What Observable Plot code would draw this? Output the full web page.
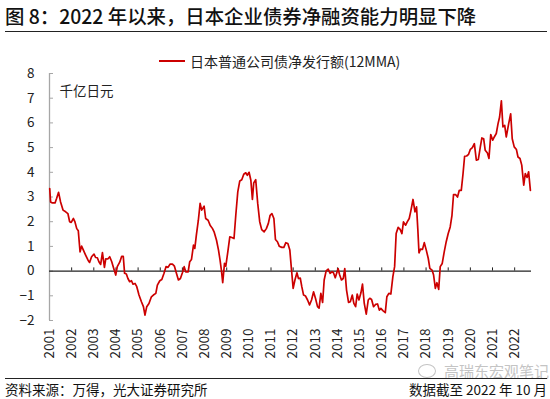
<!DOCTYPE html>
<html><head><meta charset="utf-8">
<script src="https://cdn.jsdelivr.net/npm/d3@7"></script>
<script src="https://cdn.jsdelivr.net/npm/@observablehq/plot@0.6"></script>
<style>
body{margin:0;background:#fff;font-family:"Noto Sans CJK SC","Noto Sans",sans-serif;}
#wrap{position:relative;width:550px;height:399px;overflow:hidden;background:#fff}
#title{position:absolute;left:5px;top:2px;font-size:19.4px;font-weight:500;color:#111;white-space:nowrap;line-height:28px}
.rule{position:absolute;left:5px;right:3px;border-top:1.3px solid #222;}
#legend{position:absolute;left:159px;top:51px;font-size:14px;line-height:20px;display:flex;align-items:center;color:#222;white-space:nowrap}
#legend .sw{width:26px;height:2px;background:#cc0000;margin-right:5px}
#chart{position:absolute;left:0;top:40px}
#src{position:absolute;left:5px;top:379px;font-size:13.5px;line-height:20px;color:#111;white-space:nowrap}
#date{position:absolute;right:3px;top:379px;font-size:13.5px;line-height:20px;color:#111;white-space:nowrap}
#wm{position:absolute;left:418px;top:362px;font-size:15px;line-height:18px;color:#c4c4c4;white-space:nowrap;display:flex;align-items:center}
#wm .ic{width:16px;height:12px;border:1.3px solid #c4c4c4;border-radius:50%;margin-right:8px}
</style>
</head><body>
<div id="wrap">
  <div id="title">图 8：2022 年以来，日本企业债券净融资能力明显下降</div>
  <div class="rule" style="top:31px"></div>
  <div id="chart"></div>
  <div id="legend"><span class="sw"></span><span id="legtext"></span></div>
  <div id="wm"><span class="ic"></span><span>高瑞东宏观笔记</span></div>
  <div class="rule" style="top:378px"></div>
  <div id="src">资料来源：万得，光大证券研究所</div>
  <div id="date">数据截至 2022 年 10 月</div>
</div>
<script>
const seriesName = "日本普通公司债净发行额(12MMA)";
const unitLabel = "千亿日元";
const yTicks = [-2, -1, 0, 1, 2, 3, 4, 5, 6, 7, 8];
const yearTicks = d3.range(2001, 2023);

const times = [
2001.01,2001.05,2001.13,2001.25,2001.32,2001.41,2001.50,2001.61,2001.73,2001.83,2001.91,2001.98,
2002.08,2002.15,2002.23,2002.30,2002.38,2002.45,2002.53,2002.63,2002.74,2002.81,2002.90,
2003.01,2003.08,2003.16,2003.23,2003.31,2003.39,2003.48,2003.54,2003.63,2003.72,2003.81,2003.90,2003.99,
2004.06,2004.17,2004.26,2004.33,2004.39,2004.47,2004.54,2004.62,2004.70,2004.77,2004.86,2004.94,
2005.04,2005.15,2005.24,2005.31,2005.39,2005.49,2005.60,2005.69,2005.80,2005.87,2005.98,
2006.07,2006.17,2006.26,2006.35,2006.44,2006.55,2006.64,2006.73,2006.82,2006.91,
2007.00,2007.08,2007.15,2007.26,2007.33,2007.41,2007.50,2007.56,2007.63,2007.72,2007.80,2007.87,2007.98,
2008.05,2008.16,2008.25,2008.36,2008.43,2008.54,2008.63,2008.70,2008.76,2008.82,2008.90,2008.96,
2009.05,2009.14,2009.23,2009.33,2009.41,2009.50,2009.59,2009.68,2009.77,2009.86,2009.93,
2010.01,2010.09,2010.16,2010.22,2010.31,2010.40,2010.49,2010.58,2010.69,2010.79,2010.88,2010.96,
2011.04,2011.13,2011.20,2011.29,2011.37,2011.49,2011.58,2011.67,2011.76,2011.85,2011.92,
2012.00,2012.08,2012.17,2012.24,2012.32,2012.39,2012.47,2012.56,2012.65,2012.74,2012.83,2012.92,
2013.01,2013.10,2013.17,2013.25,2013.33,2013.40,2013.49,2013.58,2013.67,2013.75,2013.82,2013.90,2013.97,
2014.03,2014.09,2014.18,2014.26,2014.33,2014.41,2014.50,2014.58,2014.67,2014.74,2014.82,2014.89,2014.97,
2015.06,2015.13,2015.21,2015.30,2015.39,2015.46,2015.54,2015.63,2015.72,2015.81,2015.89,2015.96,
2016.05,2016.16,2016.23,2016.32,2016.41,2016.50,2016.58,2016.65,2016.74,2016.83,2016.91,2016.98,
2017.08,2017.15,2017.24,2017.32,2017.41,2017.50,2017.57,2017.63,2017.68,2017.75,2017.84,2017.92,
2018.01,2018.10,2018.17,2018.27,2018.34,2018.42,2018.49,2018.57,2018.64,2018.73,2018.82,2018.91,
2019.00,2019.09,2019.17,2019.24,2019.33,2019.42,2019.50,2019.59,2019.67,2019.74,2019.83,2019.92,
2020.00,2020.09,2020.18,2020.27,2020.36,2020.45,2020.52,2020.60,2020.67,2020.77,2020.84,2020.92,
2021.01,2021.08,2021.17,2021.25,2021.32,2021.40,2021.47,2021.55,2021.62,2021.73,2021.82,2021.89,2021.98,
2022.08,2022.15,2022.24,2022.32,2022.41,2022.48,2022.56,2022.63,2022.71
];
const values = [
3.34,2.80,2.76,2.76,2.94,3.19,2.80,2.47,2.40,2.33,2.00,1.97,
2.13,1.99,1.72,1.63,0.78,1.01,0.85,0.65,0.44,0.35,0.58,
0.69,0.55,0.54,0.38,0.27,0.75,0.15,0.50,0.49,0.58,0.38,0.11,-0.16,
0.18,0.36,0.60,0.60,-0.09,-0.12,-0.30,-0.43,-0.39,-0.53,-0.50,-0.63,
-0.97,-1.24,-1.44,-1.78,-1.44,-1.31,-1.04,-0.97,-0.90,-0.57,-0.39,
-0.34,-0.09,0.18,0.15,0.28,0.28,0.20,-0.09,-0.36,-0.30,
-0.07,0.18,-0.03,-0.03,0.38,0.47,1.05,0.92,1.46,2.06,2.74,2.47,2.63,
2.13,2.06,1.86,1.72,1.59,1.25,0.85,0.44,0.04,-0.47,0.31,0.20,
0.78,1.39,1.36,1.32,2.26,3.21,3.65,3.70,3.92,3.98,3.88,
4.00,3.68,2.90,3.57,3.70,2.74,2.00,1.68,1.59,1.72,1.93,2.26,
2.33,2.13,1.28,1.19,1.01,0.96,0.96,1.15,1.12,0.85,0.11,
-0.70,-0.36,-0.07,-0.30,-0.28,-0.63,-0.97,-1.01,-1.17,-1.37,-1.17,-0.84,
-1.11,-1.44,-1.50,-0.90,-1.27,-0.36,0.01,0.08,-0.09,-0.03,-0.07,-0.27,-0.07,
0.10,-0.13,-0.36,-0.30,0.10,-0.77,-1.27,-1.24,-0.97,-1.31,-1.44,-0.93,-1.17,
-0.88,-0.53,-1.31,-1.74,-1.17,-1.10,-1.15,-1.44,-1.35,-1.33,-1.58,-1.51,
-1.60,-1.68,-1.04,-0.90,-0.93,-0.23,0.18,1.52,1.77,1.69,1.52,1.99,
1.86,1.99,2.13,2.47,2.90,2.40,2.60,1.66,0.74,0.89,0.88,1.15,
0.85,0.51,0.11,0.04,-0.16,-0.70,-0.47,-0.74,0.18,0.31,0.78,1.19,
1.52,1.79,2.26,3.10,3.10,3.00,3.27,3.27,3.95,4.65,4.66,4.73,
4.93,5.00,5.16,4.49,4.52,5.03,5.39,5.36,4.89,4.78,4.56,5.53,
5.30,5.43,5.57,5.97,6.24,6.89,5.84,5.90,5.43,5.97,6.37,5.36,5.03,
4.92,4.62,4.56,4.29,3.48,3.95,3.79,4.02,3.27
];

document.getElementById("legtext").textContent = seriesName;
const data = times.map((t, i) => ({t, v: values[i]}));
const font = '"Noto Sans CJK SC","Noto Sans",sans-serif';

const chart = Plot.plot({
  width: 550, height: 330,
  marginLeft: 49, marginRight: 19, marginTop: 33, marginBottom: 50,
  x: {domain: [2001, 2022.76]},
  y: {domain: [-2, 8]},
  style: {fontFamily: font, fontSize: "13px", color: "#222", background: "transparent"},
  marks: [
    Plot.ruleX([2001], {y1: -2, y2: 8, stroke: "#a6a6a6", strokeWidth: 1.3}),
    Plot.axisY({ticks: yTicks, tickSize: -4, stroke: "#a6a6a6", tickFormat: () => "", label: null}),
    Plot.axisY({ticks: yTicks, tickSize: 0, tickPadding: 15, fontSize: 13.5, label: null}),
    Plot.ruleY([0], {stroke: "#222", strokeWidth: 1.3}),
    Plot.ruleX(yearTicks.slice(1), {x: d => d, y1: 0, y2: 0.13, stroke: "#222"}),
    Plot.axisX({ticks: yearTicks, tickSize: 0, tickRotate: -90, tickPadding: 8, tickFormat: d => String(d), fontSize: 13.5, label: null}),
    Plot.text([unitLabel], {frameAnchor: "top-left", dx: 10, dy: 13, textAnchor: "start", fontSize: 13.5, fill: "#222"}),
    Plot.line(data, {x: "t", y: "v", stroke: "#cc0000", strokeWidth: 1.7})
  ]
});
document.getElementById("chart").appendChild(chart);
</script>
</body></html>
